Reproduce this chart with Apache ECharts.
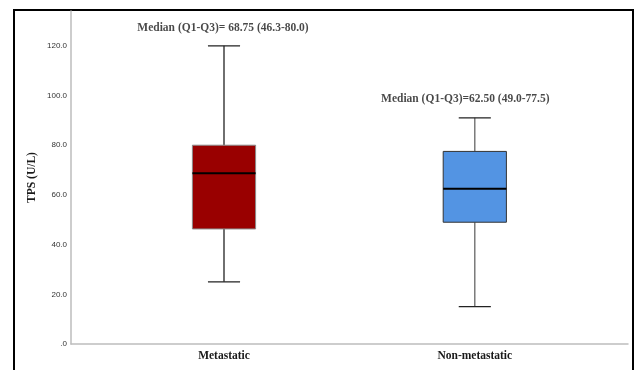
<!DOCTYPE html>
<html>
<head>
<meta charset="utf-8">
<script src="https://cdn.jsdelivr.net/npm/echarts@6/dist/echarts.min.js"></script>
<style>html,body{margin:0;padding:0;background:#fff;}#c{width:637px;height:370px;}</style>
</head>
<body>
<div id="c"></div>
<script>
// Data
var categories = ['Metastatic', 'Non-metastatic'];
var lowerWhisker = [25, 15];
var q1 = [46.3, 49.0];
var median = [68.75, 62.5];
var q3 = [80.0, 77.5];
var upperWhisker = [120, 91];
var annotations = ['Median (Q1-Q3)= 68.75 (46.3-80.0)', 'Median (Q1-Q3)=62.50 (49.0-77.5)'];
var annotationY = [127.3, 98.5];
var yTicks = [0, 20, 40, 60, 80, 100, 120];

var fills = ['#990000', '#5394E3'];
var borders = ['#8a8a8a', '#333333'];
var whiskerColors = ['#222222', '#666666'];
var annotationShift = [-1, -9.5];

var chart = echarts.init(document.getElementById('c'), null, {renderer: 'canvas'});
var boxData = categories.map(function (c, i) {
  return [i, lowerWhisker[i], q1[i], median[i], q3[i], upperWhisker[i]];
});
var Y_MAX = 134;
var serif = '"Liberation Serif", "Times New Roman", serif';

var option = {
  backgroundColor: '#ffffff',
  animation: false,
  graphic: [{
    type: 'rect',
    shape: {x: 14, y: 10, width: 619, height: 380},
    style: {fill: 'none', stroke: '#000', lineWidth: 2},
    silent: true
  }],
  grid: [
    {left: 71, right: 9, top: 11, bottom: 26},
    {left: 98.6, right: 36.8, top: 11, bottom: 26}
  ],
  xAxis: [
    {gridIndex: 0, type: 'value', min: 0, max: 1,
      axisLine: {show: true, lineStyle: {color: '#bdbdbd', width: 1.5}},
      axisTick: {show: false}, axisLabel: {show: false}, splitLine: {show: false}},
    {gridIndex: 1, type: 'category', data: categories, boundaryGap: true,
      axisLine: {show: false}, axisTick: {show: false}, splitLine: {show: false},
      axisLabel: {margin: 6, fontFamily: serif, fontWeight: 'bold', fontSize: 11.5, color: '#1a1a1a'}}
  ],
  yAxis: [
    {gridIndex: 0, type: 'value', min: 0, max: Y_MAX, interval: 20,
      name: 'TPS (U/L)', nameLocation: 'middle', nameGap: 33, nameMoveOverlap: false,
      nameTextStyle: {fontFamily: serif, fontWeight: 'bold', fontSize: 11.5, color: '#1a1a1a'},
      axisLine: {show: true, lineStyle: {color: '#bdbdbd', width: 1.5}},
      axisTick: {show: false}, splitLine: {show: false},
      axisLabel: {margin: 4, fontSize: 8, color: '#333', fontFamily: 'Arial, "Liberation Sans", sans-serif',
        formatter: function (v) {
          if (yTicks.indexOf(v) < 0) return '';
          return v === 0 ? '.0' : v.toFixed(1);
        }}},
    {gridIndex: 1, type: 'value', min: 0, max: Y_MAX, show: false}
  ],
  series: [
    {
      type: 'custom',
      xAxisIndex: 1, yAxisIndex: 1,
      data: boxData,
      encode: {x: 0, y: [1, 2, 3, 4, 5]},
      renderItem: function (params, api) {
        var idx = api.value(0);
        var band = api.size([1, 0])[0];
        var boxW = band * 0.252;
        var capW = band * 0.128;
        var pLow = api.coord([idx, api.value(1)]);
        var pQ1 = api.coord([idx, api.value(2)]);
        var pMed = api.coord([idx, api.value(3)]);
        var pQ3 = api.coord([idx, api.value(4)]);
        var pHigh = api.coord([idx, api.value(5)]);
        var x = pMed[0];
        var i = params.dataIndex;
        var wc = whiskerColors[i];
        return {
          type: 'group',
          children: [
            {type: 'line', shape: {x1: x, y1: pQ3[1], x2: x, y2: pHigh[1]}, style: {stroke: wc, lineWidth: 1.3}},
            {type: 'line', shape: {x1: x, y1: pQ1[1], x2: x, y2: pLow[1]}, style: {stroke: wc, lineWidth: 1.3}},
            {type: 'line', shape: {x1: x - capW / 2, y1: pHigh[1], x2: x + capW / 2, y2: pHigh[1]}, style: {stroke: '#222', lineWidth: 1.3}},
            {type: 'line', shape: {x1: x - capW / 2, y1: pLow[1], x2: x + capW / 2, y2: pLow[1]}, style: {stroke: '#222', lineWidth: 1.3}},
            {type: 'rect', shape: {x: x - boxW / 2, y: pQ3[1], width: boxW, height: pQ1[1] - pQ3[1]},
              style: {fill: fills[i], stroke: borders[i], lineWidth: 1}},
            {type: 'line', shape: {x1: x - boxW / 2, y1: pMed[1], x2: x + boxW / 2, y2: pMed[1]}, style: {stroke: '#000', lineWidth: 2}}
          ]
        };
      }
    },
    {
      type: 'scatter',
      xAxisIndex: 1, yAxisIndex: 1,
      symbolSize: 0,
      data: categories.map(function (c, i) {
        return {value: [i, annotationY[i]], label: {offset: [annotationShift[i], 0]}};
      }),
      label: {
        show: true, position: 'inside',
        fontFamily: serif, fontWeight: 'bold', fontSize: 11.5, color: '#1a1a1a',
        formatter: function (p) { return annotations[p.dataIndex]; }
      },
      silent: true
    }
  ]
};
chart.setOption(option);
</script>
</body>
</html>
